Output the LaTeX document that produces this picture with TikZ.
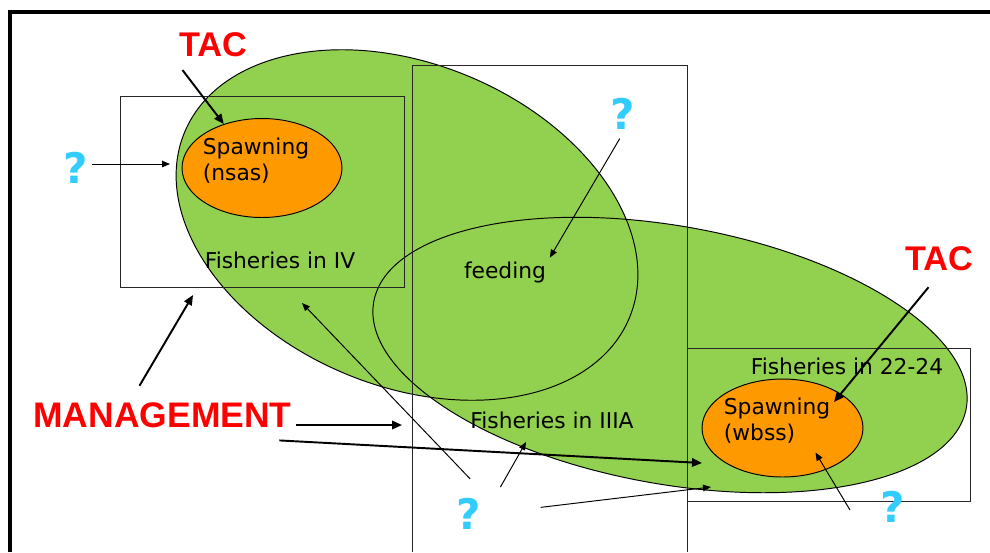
\documentclass[tikz,border=0pt]{standalone}
\usepackage{fontspec}
\setmainfont{DejaVu Sans}
\newfontfamily\headfont{Liberation Sans}
\usepackage{xcolor}
\usetikzlibrary{arrows.meta}
\usetikzlibrary{shapes.geometric}
\definecolor{leaf}{RGB}{146,208,80}
\definecolor{roe}{RGB}{255,153,0}
\definecolor{query}{RGB}{51,204,255}
\tikzset{
  area/.style={draw=black!85,line width=0.5pt},
  lbl/.style={font=\fontsize{12.4}{14.7}\selectfont,inner sep=2pt,align=left},
  roezone/.style={ellipse,draw,fill=roe,line width=0.55pt,inner sep=0pt},
  tac/.style={font=\headfont\bfseries\fontsize{19.5}{20}\selectfont,text=red,inner sep=2pt},
  mgmtlbl/.style={font=\headfont\bfseries\fontsize{20.2}{21}\selectfont,text=red,inner sep=2pt},
  ask/.style={font=\bfseries\fontsize{24}{24}\selectfont,text=query,inner sep=2pt},
  heavyarrow/.style={line width=1.1pt,-{Triangle[length=2mm,width=1.7mm]}},
  thinarrow/.style={line width=0.55pt,-{Triangle[length=1.6mm,width=1.3mm]}}
}

\begin{document}
\begin{tikzpicture}[x=0.02cm,y=-0.02cm]
\useasboundingbox (0,0) rectangle (990,552);
\draw[line width=1.8pt] (10,552) -- (10,12) -- (990,12);
% the two stocks
\fill[leaf,rotate around={-22.7:(407,225)}] (407,225) ellipse (241 and 161);
\fill[leaf,rotate around={-10.2:(670,355)}] (670,355) ellipse (301 and 129);
\draw[line width=0.55pt,rotate around={-22.7:(407,225)}] (407,225) ellipse (241 and 161);
\draw[line width=0.55pt,rotate around={-10.2:(670,355)}] (670,355) ellipse (301 and 129);
% fishery areas
\draw[area] (120,96) rectangle (404,287);
\draw[area] (412,552) |- (687,65) -- (687,552);
\draw[area] (687,348) rectangle (970,501);
\node[roezone,minimum width=3.2cm,minimum height=1.98cm] (nsas) at (262,168) {};
\node[roezone,minimum width=3.22cm,minimum height=1.96cm] (wbss) at (782.5,428) {};
\node[lbl] (nsasTxt) at (256,161) {Spawning\\(nsas)};
\node[lbl] (wbssTxt) at (777,420.5) {Spawning\\(wbss)};
\node[lbl] (fishIV) at (280,260) {Fisheries in IV};
\node[lbl] (feeding) at (505,272) {feeding};
\node[lbl] (fishIIIA) at (552,420) {Fisheries in IIIA};
\node[lbl] (fish2224) at (847,366.5) {Fisheries in 22-24};
% labels round the edge
\node[tac] (tacN) at (213,44.5) {TAC};
\node[tac] (tacS) at (939,258.5) {TAC};
\node[mgmtlbl] (mgmt) at (162.5,415.5) {MANAGEMENT};
\node[ask] (qW) at (76,168) {?};
\node[ask] (qN) at (623,113.5) {?};
\node[ask] (qS) at (469,514) {?};
\node[ask] (qE) at (893,507) {?};
\coordinate (edgeW) at (170,164);
\coordinate (aimIV) at (302,303);
\coordinate (aimIIIA) at (526,442);
\coordinate (aim2224) at (711,487);
\coordinate (qEtail) at (850,510);
\coordinate (mgmtIV) at (193,295);
\coordinate (mgmtIIIA) at (402,425);
\coordinate (mgmt2224) at (702,463);
% arrows
\draw[heavyarrow,shorten <=2.4mm] (tacN.south west) -- (nsas.131);
\draw[heavyarrow,shorten <=3.3mm] (tacS.south) -- (wbssTxt.18);
\draw[thinarrow] (qW.east |- edgeW) -- (edgeW);
\draw[thinarrow,shorten <=1.3mm] (qN.south) -- (feeding.north east);
\draw[thinarrow,shorten <=4.3mm] (qS.north east) -- (aimIV);
\draw[thinarrow,shorten <=6.2mm] (qS.east) -- (aimIIIA);
\draw[thinarrow,shorten <=11.2mm] (qS.east) -- (aim2224);
\draw[thinarrow,shorten >=1.3mm] (qEtail) -- (wbssTxt.-37);
\draw[heavyarrow,shorten <=3.1mm] (mgmt.152) -- (mgmtIV);
\draw[heavyarrow] (mgmt.east |- mgmtIIIA) -- (mgmtIIIA);
\draw[heavyarrow] ([yshift=-0.17cm]mgmt.-8) -- (mgmt2224);
\end{tikzpicture}
\end{document}
